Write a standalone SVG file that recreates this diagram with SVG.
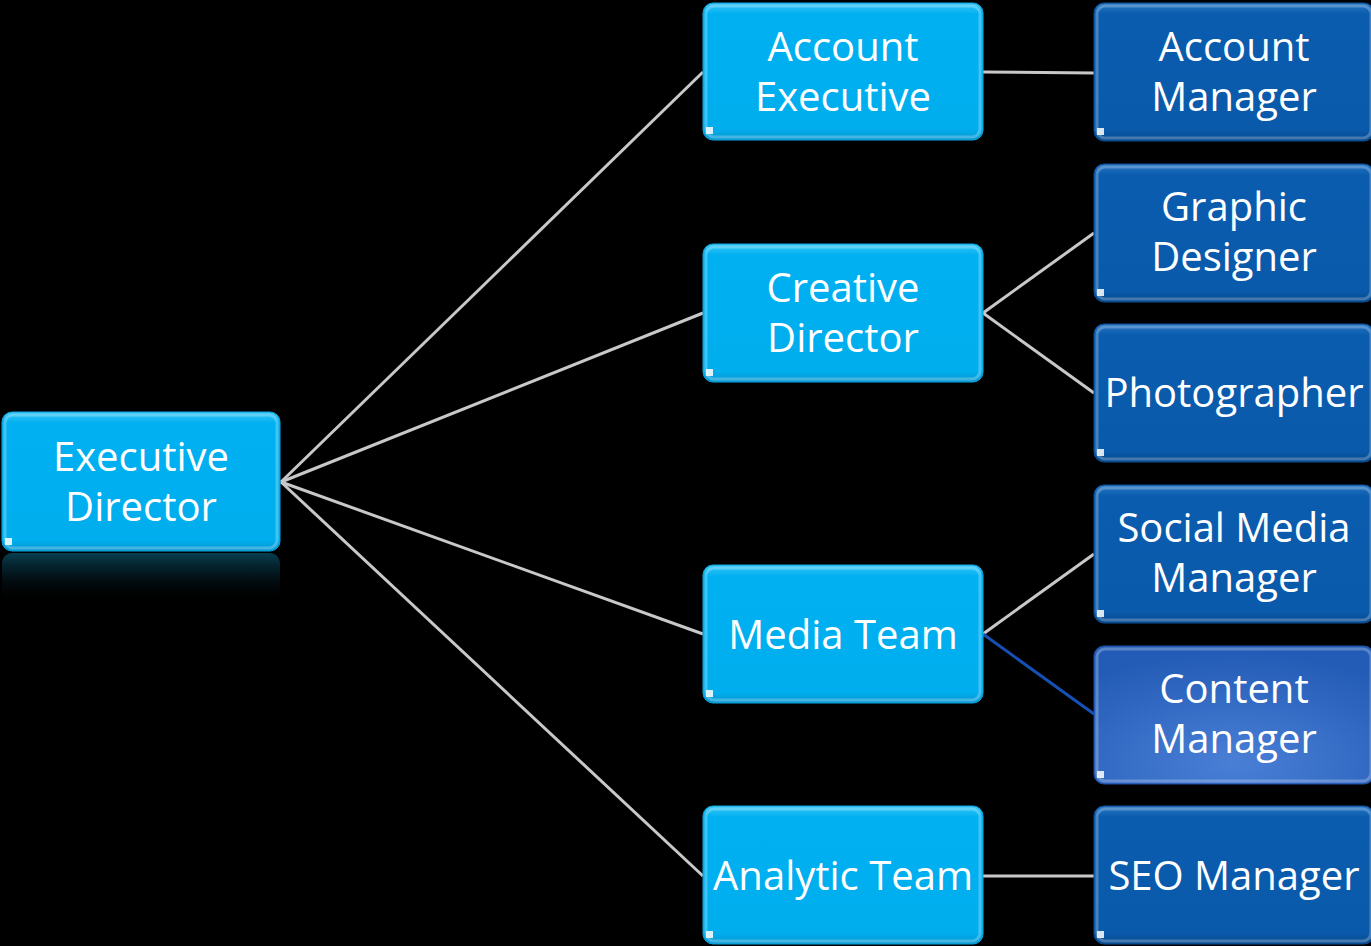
<svg xmlns="http://www.w3.org/2000/svg" width="1371" height="946" viewBox="0 0 1371 946">
<defs>
<linearGradient id="lb" x1="0" y1="0" x2="0" y2="1">
<stop offset="0" stop-color="#3cc8f7"/><stop offset="0.08" stop-color="#00b0f0"/><stop offset="0.92" stop-color="#00aeee"/><stop offset="1" stop-color="#0896d0"/>
</linearGradient>
<linearGradient id="db" x1="0" y1="0" x2="0" y2="1">
<stop offset="0" stop-color="#2a78c4"/><stop offset="0.08" stop-color="#0a5cae"/><stop offset="0.92" stop-color="#0a5aab"/><stop offset="1" stop-color="#06488c"/>
</linearGradient>
<radialGradient id="cb" cx="0.5" cy="0.85" r="0.8">
<stop offset="0" stop-color="#4a7fd6"/><stop offset="1" stop-color="#235cb6"/>
</radialGradient>
<linearGradient id="refl" x1="0" y1="0" x2="0" y2="1">
<stop offset="0" stop-color="#0a4f66" stop-opacity="0.8"/><stop offset="0.5" stop-color="#062a36" stop-opacity="0.4"/><stop offset="1" stop-color="#000" stop-opacity="0"/>
</linearGradient>
</defs>
<style>
.lt{fill:url(#lb);stroke:#0aa6e0;stroke-width:1}
.dk{fill:url(#db);stroke:#0a4e98;stroke-width:1}
.hl{fill:none;stroke:#ffffff;stroke-opacity:0.25;stroke-width:3}
.t{font-family:"Open Sans","Liberation Sans",sans-serif;font-size:40px;fill:#ffffff;text-anchor:middle}
.c{stroke:#c8c8c8;stroke-width:3;fill:none}
.cb{stroke:#1650b4;stroke-width:3;fill:none}
.dot{fill:#ffffff;fill-opacity:0.85}
</style>
<rect width="1371" height="946" fill="#000"/>
<rect x="2" y="553" width="278" height="50" rx="10" fill="url(#refl)"/>
<g id="connectors">
<line class="c" x1="281" y1="482" x2="703" y2="72"/>
<line class="c" x1="281" y1="482" x2="703" y2="313"/>
<line class="c" x1="281" y1="482" x2="703" y2="634"/>
<line class="c" x1="281" y1="482" x2="703" y2="876"/>
<line class="c" x1="983" y1="72" x2="1094" y2="73"/>
<line class="c" x1="983" y1="313" x2="1094" y2="233"/>
<line class="c" x1="983" y1="313" x2="1094" y2="393"/>
<line class="c" x1="983" y1="634" x2="1094" y2="554"/>
<line class="cb" x1="983" y1="634" x2="1094" y2="714"/>
<line class="c" x1="983" y1="876" x2="1094" y2="876"/>
</g>
<g id="executive-director">
<rect class="lt" x="2" y="412" width="278" height="139" rx="10"/>
<rect class="hl" x="5" y="415" width="272" height="133" rx="8"/>
<path class="dot" d="M5 538 h7 v7 h-7z"/>
<text class="t" x="141" y="471">Executive</text>
<text class="t" x="141" y="521">Director</text>
</g>
<g id="account-executive">
<rect class="lt" x="703" y="3" width="280" height="137" rx="10"/>
<rect class="hl" x="706" y="6" width="274" height="131" rx="8"/>
<path class="dot" d="M706 127 h7 v7 h-7z"/>
<text class="t" x="843" y="61">Account</text>
<text class="t" x="843" y="111">Executive</text>
</g>
<g id="creative-director">
<rect class="lt" x="703" y="244" width="280" height="138" rx="10"/>
<rect class="hl" x="706" y="247" width="274" height="132" rx="8"/>
<path class="dot" d="M706 369 h7 v7 h-7z"/>
<text class="t" x="843" y="302">Creative</text>
<text class="t" x="843" y="352">Director</text>
</g>
<g id="media-team">
<rect class="lt" x="703" y="565" width="280" height="138" rx="10"/>
<rect class="hl" x="706" y="568" width="274" height="132" rx="8"/>
<path class="dot" d="M706 690 h7 v7 h-7z"/>
<text class="t" x="843" y="649">Media Team</text>
</g>
<g id="analytic-team">
<rect class="lt" x="703" y="806" width="280" height="138" rx="10"/>
<rect class="hl" x="706" y="809" width="274" height="132" rx="8"/>
<path class="dot" d="M706 931 h7 v7 h-7z"/>
<text class="t" x="843" y="890">Analytic Team</text>
</g>
<g id="account-manager">
<rect class="dk" x="1094" y="3" width="280" height="138" rx="10"/>
<rect class="hl" x="1097" y="6" width="274" height="132" rx="8"/>
<path class="dot" d="M1097 128 h7 v7 h-7z"/>
<text class="t" x="1234" y="61">Account</text>
<text class="t" x="1234" y="111">Manager</text>
</g>
<g id="graphic-designer">
<rect class="dk" x="1094" y="164" width="280" height="138" rx="10"/>
<rect class="hl" x="1097" y="167" width="274" height="132" rx="8"/>
<path class="dot" d="M1097 289 h7 v7 h-7z"/>
<text class="t" x="1234" y="221">Graphic</text>
<text class="t" x="1234" y="271">Designer</text>
</g>
<g id="photographer">
<rect class="dk" x="1094" y="324" width="280" height="138" rx="10"/>
<rect class="hl" x="1097" y="327" width="274" height="132" rx="8"/>
<path class="dot" d="M1097 449 h7 v7 h-7z"/>
<text class="t" x="1234" y="407">Photographer</text>
</g>
<g id="social-media-manager">
<rect class="dk" x="1094" y="485" width="280" height="138" rx="10"/>
<rect class="hl" x="1097" y="488" width="274" height="132" rx="8"/>
<path class="dot" d="M1097 610 h7 v7 h-7z"/>
<text class="t" x="1234" y="542">Social Media</text>
<text class="t" x="1234" y="592">Manager</text>
</g>
<g id="content-manager">
<rect x="1094" y="646" width="280" height="138" rx="10" fill="url(#cb)" stroke="#1c4fa8"/>
<rect class="hl" x="1097" y="649" width="274" height="132" rx="8"/>
<path class="dot" d="M1097 771 h7 v7 h-7z"/>
<text class="t" x="1234" y="703">Content</text>
<text class="t" x="1234" y="753">Manager</text>
</g>
<g id="seo-manager">
<rect class="dk" x="1094" y="806" width="280" height="138" rx="10"/>
<rect class="hl" x="1097" y="809" width="274" height="132" rx="8"/>
<path class="dot" d="M1097 931 h7 v7 h-7z"/>
<text class="t" x="1234" y="890">SEO Manager</text>
</g>
</svg>
